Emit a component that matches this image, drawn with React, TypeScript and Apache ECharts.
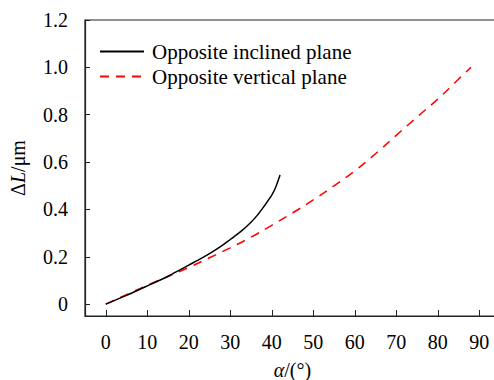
import React, { useEffect, useRef } from "react";
import * as echarts from "echarts";

const inclinedX = [0, 5, 10, 15, 18, 20, 23, 25, 28, 30, 32.5, 35, 36.5, 38, 40, 41, 42];
const inclinedY = [0, 0.037, 0.077, 0.118, 0.146, 0.165, 0.193, 0.213, 0.247, 0.273, 0.306, 0.346, 0.375, 0.41, 0.46, 0.496, 0.545];
const verticalX = [0, 5, 10, 15, 20, 25, 30, 35, 40, 45, 50, 55, 60, 65, 70, 75, 80, 85, 88];
const verticalY = [0, 0.04, 0.08, 0.117, 0.155, 0.196, 0.238, 0.283, 0.333, 0.385, 0.44, 0.5, 0.563, 0.635, 0.713, 0.79, 0.866, 0.95, 1.0];
const xTicks = [0, 10, 20, 30, 40, 50, 60, 70, 80, 90];
const yTicks = [0, 0.2, 0.4, 0.6, 0.8, 1.0, 1.2];
const seriesNames = ["Opposite inclined plane", "Opposite vertical plane"];

const FONT = "'Liberation Serif', 'Times New Roman', serif";
const txt = { fontFamily: FONT, fontSize: 20, color: "#000" };

export default function App() {
  const ref = useRef<HTMLDivElement>(null);
  useEffect(() => {
    const chart = echarts.init(ref.current!, null, { renderer: "svg" });
    chart.setOption({
      animation: false,
      textStyle: { fontFamily: FONT, color: "#000" },
      grid: {
        left: 85,
        top: 20,
        width: 415,
        bottom: 64,
        outerBoundsMode: "none",
        containLabel: false,
        show: true,
        borderColor: "#222",
        borderWidth: 1.2,
      },
      legend: {
        left: 94,
        top: 36,
        orient: "vertical",
        itemWidth: 44,
        itemHeight: 14,
        itemGap: 4,
        itemStyle: { opacity: 0 },
        textStyle: { fontFamily: FONT, fontSize: 21, color: "#000", padding: [0, 0, 0, 3] },
        data: seriesNames,
      },
      xAxis: {
        type: "value",
        min: -5,
        max: 95,
        name: "{i|α}{n|/(°)}",
        nameLocation: "middle",
        nameGap: 44,
        nameTextStyle: {
          ...txt,
          rich: { i: { ...txt, fontStyle: "italic" }, n: { ...txt } },
        },
        axisLine: { show: true, onZero: false, lineStyle: { color: "#222", width: 1.2 } },
        axisTick: { show: true, inside: true, length: 6, customValues: xTicks, lineStyle: { color: "#222" } },
        axisLabel: {
          customValues: xTicks,
          ...txt,
          margin: 16,
          formatter: (v: number) => `{n|${v}}`,
          rich: { n: { ...txt } },
        },
        splitLine: { show: false },
      },
      yAxis: {
        type: "value",
        min: -0.05,
        max: 1.2,
        name: "{n|Δ}{i|L}{n|/μm}",
        nameLocation: "middle",
        nameGap: 57,
        nameRotate: 90,
        nameTextStyle: {
          ...txt,
          rich: { i: { ...txt, fontStyle: "italic" }, n: { ...txt } },
        },
        axisLine: { show: true, onZero: false, lineStyle: { color: "#222", width: 1.2 } },
        axisTick: { show: true, inside: true, length: 5, customValues: yTicks, lineStyle: { color: "#222" } },
        axisLabel: {
          customValues: yTicks,
          ...txt,
          margin: 17,
          formatter: (v: number) => `{n|${v === 0 ? "0" : v.toFixed(1)}}`,
          rich: { n: { ...txt } },
        },
        splitLine: { show: false },
      },
      series: [
        {
          name: seriesNames[0],
          type: "line",
          smooth: 0.3,
          symbol: "none",
          data: inclinedX.map((x, i) => [x, inclinedY[i]]),
          lineStyle: { color: "#000", width: 1.5 },
          itemStyle: { color: "#000" },
          z: 3,
        },
        {
          name: seriesNames[1],
          type: "line",
          smooth: true,
          symbol: "none",
          data: verticalX.map((x, i) => [x, verticalY[i]]),
          lineStyle: { color: "#ff0000", width: 1.5, type: [9, 7] },
          itemStyle: { color: "#ff0000" },
          z: 2,
        },
      ],
    });
    return () => chart.dispose();
  }, []);
  return <div ref={ref} style={{ width: 494, height: 380, position: "absolute", left: 0, top: 0 }} />;
}
